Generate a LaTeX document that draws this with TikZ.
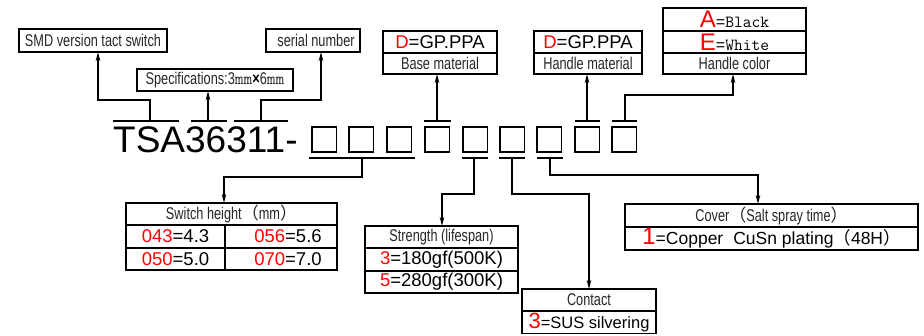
\documentclass[tikz,border=0pt]{standalone}
\usepackage{fontspec}
\setmainfont{Liberation Sans}
\newfontfamily\narrow{Liberation Sans}[FakeStretch=0.75]
\newfontfamily\cjk{Noto Sans CJK SC}
\usetikzlibrary{arrows.meta}
\definecolor{tgray}{HTML}{262626}
\definecolor{vred}{HTML}{FF0000}
\newcommand\rd[1]{\textcolor{vred}{#1}}
\newcommand\fs[1]{\fontsize{#1}{#1}\selectfont}
\begin{document}
\begin{tikzpicture}[x=1pt,y=-1pt,
 box/.style={draw,line width=1.8pt,inner sep=0pt,outer sep=0pt},
 ttl/.style={text=tgray,font=\narrow\fs{17}},
 val/.style={font=\fs{18.5}},
 arr/.style={line width=1.6pt,-{Stealth[length=9pt,width=4.5pt]}},
 ln/.style={line width=1.8pt},
 sq/.style={draw,line width=1.5pt,minimum width=24.5pt,minimum height=25pt,inner sep=0pt,outer sep=0pt}]
\useasboundingbox (0,0) rectangle (924,335);

% ---- top boxes
\node[box,ttl,minimum width=148pt,minimum height=23pt] (smd) at (93,40.5) {SMD version tact switch};
\node[box,ttl,minimum width=156pt,minimum height=22pt] (spec) at (215,80)
  {Specifications:3{\ttfamily\fs{17}mm}{\color{black}\fs{17}\bfseries ×}6{\ttfamily\fs{17}mm}};
\node[box,ttl,minimum width=94pt,minimum height=23pt] (ser) at (313,40.5) {\hspace*{6pt}serial number};

\node[box,val,minimum width=114pt,minimum height=22pt] (basev) at (440,42) {\rd{D}=GP.PPA};
\node[box,ttl,minimum width=114pt,minimum height=21pt,anchor=north] (base) at (basev.south) {Base material};

\node[box,val,minimum width=108pt,minimum height=22pt] (hmv) at (588,42) {\rd{D}=GP.PPA};
\node[box,ttl,minimum width=108pt,minimum height=21pt,anchor=north] (hm) at (hmv.south) {Handle material};

\node[box,minimum width=143pt,minimum height=23pt] (hca) at (734.5,19.5)
  {\rd{\fs{24}A}{\fs{16}=}{\ttfamily\fs{17}Black}};
\node[box,minimum width=143pt,minimum height=22pt,anchor=north] (hce) at (hca.south)
  {\rd{\fs{24}E}{\fs{16}=}{\ttfamily\fs{17}White}};
\node[box,ttl,minimum width=143pt,minimum height=21pt,anchor=north] (hc) at (hce.south) {Handle color};

% ---- code line
\node[anchor=base west,font=\fs{37},inner sep=0pt] (code) at (113,152) {TSA36311-};
\foreach \i/\x in {1/312,2/349,3/387,4/425,5/463,6/500,7/537,8/575,9/612}
  \node[sq,anchor=south west] (s\i) at (\x,152) {};

% overlines
\draw[ln] (113,121) -- (179,121);
\draw[ln] (191,121) -- (227,121);
\draw[ln] (234,121) -- (288,121);
\draw[ln] (424,121) -- (451,121);
\draw[ln] (575,121) -- (600,121);
\draw[ln] (612,121) -- (637,121);
% underlines
\draw[ln] (309,158) -- (415,158);
\draw[ln] (462,158) -- (488,158);
\draw[ln] (499,158) -- (525,158);
\draw[ln] (537,158) -- (563,158);

% ---- bottom boxes
\node[box,ttl,minimum width=211pt,minimum height=22pt] (sw) at (231.5,214) {Switch height{\cjk （}mm{\cjk ）}};
\node[box,val,minimum width=99pt,minimum height=23pt,anchor=north west] (sw1) at (sw.south west) {\rd{043}=4.3};
\node[box,val,minimum width=112pt,minimum height=23pt,anchor=north east] (sw2) at (sw.south east) {\hspace*{14pt}\rd{056}=5.6};
\node[box,val,minimum width=99pt,minimum height=22pt,anchor=north west] (sw3) at (sw1.south west) {\rd{050}=5.0};
\node[box,val,minimum width=112pt,minimum height=22pt,anchor=north east] (sw4) at (sw2.south east) {\hspace*{14pt}\rd{070}=7.0};

\node[box,ttl,minimum width=153pt,minimum height=22pt] (st) at (441.5,237) {Strength (lifespan)};
\node[box,val,minimum width=153pt,minimum height=23pt,anchor=north] (st1) at (st.south) {\rd{3}=180gf(500K)};
\node[box,val,minimum width=153pt,minimum height=22pt,anchor=north] (st2) at (st1.south) {\rd{5}=280gf(300K)};

\node[box,ttl,minimum width=134pt,minimum height=22pt] (ct) at (589,300) {Contact};
\node[box,minimum width=134pt,minimum height=22.5pt,anchor=north] (ct1) at (ct.south)
  {\rd{\fs{22}3}{\fs{16.5}=SUS silvering}};

\node[box,ttl,minimum width=293pt,minimum height=23pt] (cv) at (771.5,215.5) {Cover{\cjk （}Salt spray time{\cjk ）}};
\node[box,minimum width=293pt,minimum height=23pt,anchor=north] (cv1) at (cv.south)
  {\rd{\fs{24}1}{\fs{17.5}=Copper\hspace{10pt}CuSn plating{\cjk （}48H{\cjk ）}}};

% ---- connectors (top)
\coordinate (t1) at (150,121); \coordinate (j1) at (98,100);
\draw[arr] (t1) |- (j1) -- (smd.south -| j1);
\coordinate (t2) at (208,121);
\draw[arr] (t2) -- (spec.south -| t2);
\coordinate (t3) at (261,121); \coordinate (j3) at (321,100);
\draw[arr] (t3) |- (j3) -- (ser.south -| j3);
\coordinate (t4) at (437,121);
\draw[arr] (t4) -- (base.south -| t4);
\coordinate (t8) at (587,121);
\draw[arr] (t8) -- (hm.south -| t8);
\coordinate (t9) at (625,121); \coordinate (j9) at (733,95);
\draw[arr] (t9) |- (j9) -- (hc.south -| j9);

% ---- connectors (bottom)
\coordinate (b1) at (362,158); \coordinate (k1) at (224,177);
\draw[arr] (b1) |- (k1) -- (sw.north -| k1);
\coordinate (b5) at (474,158); \coordinate (k5) at (442,194);
\draw[arr] (b5) |- (k5) -- (st.north -| k5);
\coordinate (b6) at (512,158); \coordinate (k6) at (589,194);
\draw[arr] (b6) |- (k6) -- (ct.north -| k6);
\coordinate (b7) at (550,158); \coordinate (k7) at (758,175);
\draw[arr] (b7) |- (k7) -- (cv.north -| k7);
\end{tikzpicture}
\end{document}
